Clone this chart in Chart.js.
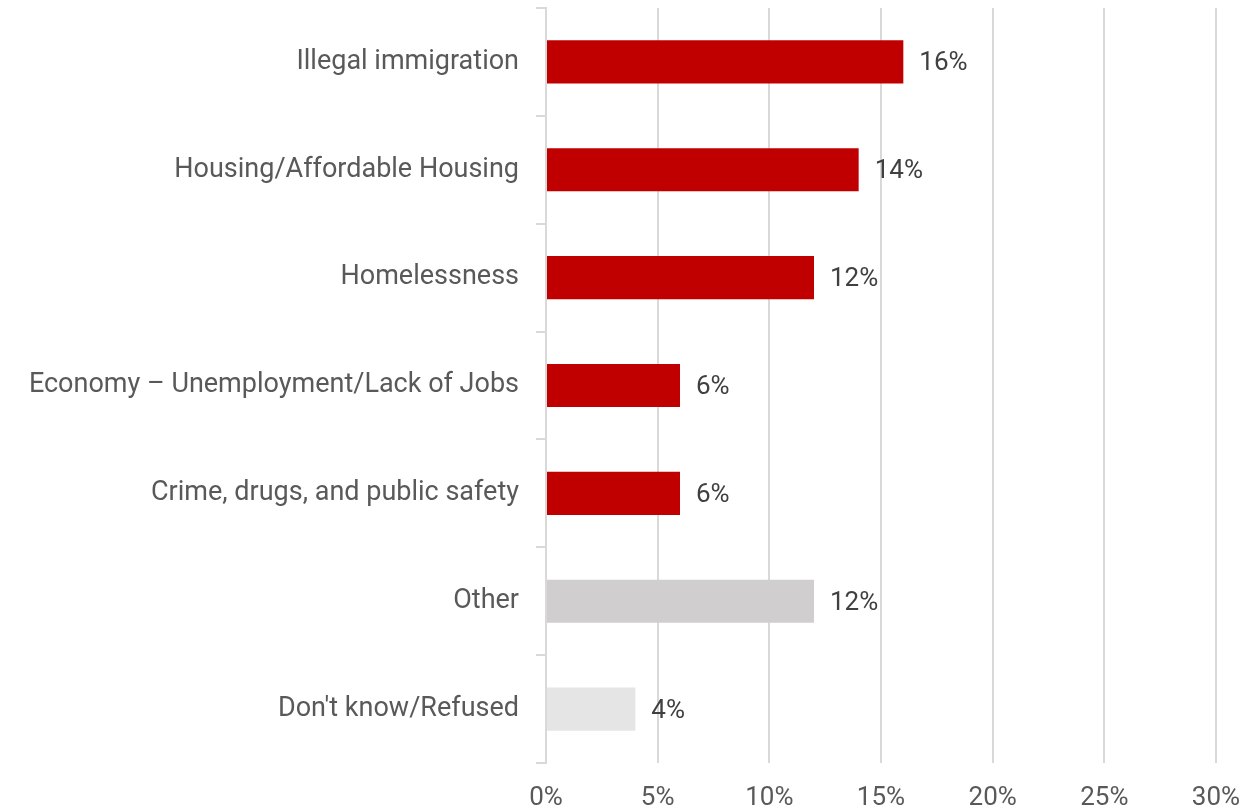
<!DOCTYPE html>
<html>
<head>
<meta charset="utf-8">
<script src="https://cdn.jsdelivr.net/npm/chart.js@4"></script>
<style>
  html, body { margin: 0; padding: 0; background: #fff; }
  #wrap { width: 1246px; height: 812px; }
</style>
</head>
<body>
<div id="wrap"><canvas id="issuesChart"></canvas></div>
<script>
const categories = [
    'Illegal immigration',
    'Housing/Affordable Housing',
    'Homelessness',
    'Economy \u2013 Unemployment/Lack of Jobs',
    'Crime, drugs, and public safety',
    'Other',
    "Don't know/Refused"
];
const shares = [16, 14, 12, 6, 6, 12, 4];
const barColors = ['#C00000', '#C00000', '#C00000', '#C00000', '#C00000', '#D0CECE', '#E6E5E5'];
const xTicks = [0, 5, 10, 15, 20, 25, 30];

// writes "16%" etc. just past the end of each bar
const valueLabels = {
    id: 'valueLabels',
    afterDatasetsDraw(chart) {
        const ctx = chart.ctx;
        const meta = chart.getDatasetMeta(0);
        ctx.save();
        ctx.font = '26px Roboto';
        ctx.fillStyle = '#404040';
        ctx.textAlign = 'left';
        ctx.textBaseline = 'middle';
        meta.data.forEach((bar, i) => {
            ctx.fillText(shares[i] + '%', bar.x + 16, bar.y + 2);
        });
        ctx.restore();
    }
};

const ctx = document.getElementById('issuesChart').getContext('2d');
const issuesChart = new Chart(ctx, {
    type: 'bar',
    data: {
        labels: categories,
        datasets: [{
            data: shares,
            backgroundColor: barColors,
            borderWidth: 0,
            barPercentage: 0.8,
            categoryPercentage: 0.5
        }]
    },
    options: {
        indexAxis: 'y',
        responsive: true,
        maintainAspectRatio: false,
        animation: false,
        layout: {
            padding: { top: 8, right: 0, bottom: 0, left: 0 }
        },
        scales: {
            x: {
                min: 0,
                max: 30,
                afterBuildTicks(scale) {
                    scale.ticks = xTicks.map(v => ({ value: v }));
                },
                afterFit(scale) {
                    scale.height = 49;
                    scale.paddingLeft = 0;
                    scale.paddingRight = 30;
                },
                ticks: {
                    color: '#595959',
                    font: { family: 'Roboto', size: 26 },
                    padding: 20,
                    callback: v => v + '%'
                },
                grid: {
                    color: '#D9D9D9',
                    lineWidth: 2,
                    drawTicks: false
                },
                border: { display: false }
            },
            y: {
                afterFit(scale) {
                    scale.width = 546;
                    scale.paddingTop = 0;
                    scale.paddingBottom = 0;
                },
                ticks: {
                    color: '#595959',
                    font: { family: 'Roboto', size: 27 },
                    padding: 17
                },
                grid: {
                    offset: true,
                    drawOnChartArea: false,
                    color: '#D9D9D9',
                    lineWidth: 2,
                    tickLength: 10
                },
                border: { color: '#D9D9D9', width: 2 }
            }
        },
        plugins: {
            legend: { display: false },
            tooltip: { enabled: false }
        }
    },
    plugins: [valueLabels]
});
</script>
</body>
</html>
